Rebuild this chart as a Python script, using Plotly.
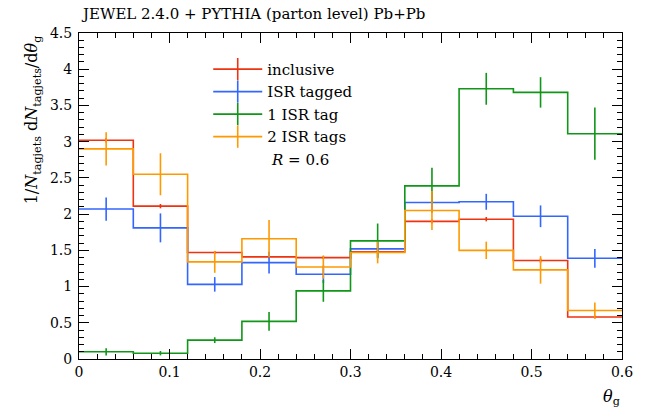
import plotly.graph_objects as go

bin_edges = [0.0, 0.06, 0.12, 0.18, 0.24, 0.30, 0.36, 0.42, 0.48, 0.54, 0.60]

inclusive = [3.02, 2.11, 1.47, 1.41, 1.40, 1.48, 1.90, 1.93, 1.36, 0.58]
inclusive_err = [0.03, 0.03, 0.02, 0.02, 0.02, 0.02, 0.03, 0.03, 0.03, 0.02]

isr_tagged = [2.07, 1.81, 1.03, 1.33, 1.17, 1.52, 2.16, 2.17, 1.97, 1.39]
isr_tagged_err = [0.16, 0.20, 0.10, 0.15, 0.12, 0.12, 0.14, 0.11, 0.15, 0.13]

one_isr = [0.10, 0.08, 0.26, 0.52, 0.94, 1.63, 2.39, 3.73, 3.68, 3.11]
one_isr_err = [0.05, 0.03, 0.04, 0.13, 0.15, 0.24, 0.25, 0.22, 0.21, 0.36]

two_isr = [2.90, 2.55, 1.34, 1.66, 1.27, 1.47, 2.05, 1.50, 1.23, 0.67]
two_isr_err = [0.23, 0.29, 0.15, 0.26, 0.16, 0.15, 0.27, 0.12, 0.19, 0.11]

series = [
    ("inclusive", inclusive, inclusive_err, "#EE3311"),
    ("ISR tagged", isr_tagged, isr_tagged_err, "#3366FF"),
    ("1 ISR tag", one_isr, one_isr_err, "#109618"),
    ("2 ISR tags", two_isr, two_isr_err, "#FF9900"),
]

centers = [(a + b) / 2 for a, b in zip(bin_edges[:-1], bin_edges[1:])]
FONT = "DejaVu Serif"

fig = go.Figure()
for name, vals, errs, col in series:
    fig.add_trace(go.Scatter(
        x=bin_edges, y=list(vals) + [vals[-1]], mode="lines",
        line=dict(color=col, width=1.6, shape="hv"),
        showlegend=False, hoverinfo="skip"))
    fig.add_trace(go.Scatter(
        x=centers, y=vals, mode="markers",
        marker=dict(size=0.1, color=col),
        error_y=dict(type="data", array=errs, visible=True, color=col,
                     thickness=1.6, width=0),
        showlegend=False))
for name, vals, errs, col in series:
    fig.add_trace(go.Scatter(
        x=[None], y=[None], mode="lines+markers", name=name,
        line=dict(color=col, width=1.6),
        marker=dict(symbol="line-ns", size=20, color=col,
                    line=dict(color=col, width=1.6))))

fig.update_layout(
    width=660, height=418,
    margin=dict(l=79, r=38, t=33, b=59, autoexpand=False),
    paper_bgcolor="white", plot_bgcolor="white",
    font=dict(family=FONT, size=14, color="black"),
    legend=dict(x=0.238, y=0.939, xanchor="left", yanchor="top",
                bgcolor="rgba(0,0,0,0)", font=dict(size=15, family=FONT),
                itemwidth=49, tracegroupgap=0),
    xaxis=dict(range=[0, 0.6], showgrid=False, zeroline=False, automargin=False,
               showline=True, linecolor="black", linewidth=1, mirror="allticks",
               ticks="inside", ticklen=10, tickwidth=1, tickcolor="black",
               dtick=0.1, tick0=0,
               minor=dict(ticks="inside", ticklen=5, dtick=0.02, tickcolor="black"),
               tickfont=dict(size=14, family=FONT)),
    yaxis=dict(range=[0, 4.5], showgrid=False, zeroline=False, automargin=False,
               showline=True, linecolor="black", linewidth=1, mirror="allticks",
               ticks="inside", ticklen=10, tickwidth=1, tickcolor="black",
               dtick=0.5, tick0=0, ticklabelstandoff=3,
               minor=dict(ticks="inside", ticklen=5, dtick=0.1, tickcolor="black"),
               tickfont=dict(size=14, family=FONT)),
    annotations=[
        dict(text="JEWEL 2.4.0 + PYTHIA (parton level) Pb+Pb", xref="paper", yref="paper",
             x=0, y=1, xanchor="left", yanchor="middle", yshift=19, showarrow=False,
             font=dict(size=15, family=FONT)),
        dict(text="1/<i>N</i><sub>tagjets</sub> d<i>N</i><sub>tagjets</sub>/d<i>θ</i><sub>g</sub>",
             xref="paper", yref="paper", textangle=-90,
             x=-0.085, y=1, xanchor="center", yanchor="top", showarrow=False,
             font=dict(size=16, family=FONT)),
        dict(text="<i>θ</i><sub>g</sub>", xref="paper", yref="paper",
             x=0.98, y=0, xanchor="center", yanchor="middle", yshift=-38, showarrow=False,
             font=dict(size=16, family=FONT)),
        dict(text="<i>R</i> = 0.6", xref="paper", yref="paper",
             x=0.349, y=0.611, xanchor="left", yanchor="middle", showarrow=False,
             font=dict(size=15, family=FONT)),
    ],
)

fig.write_html("out.html", config={"displayModeBar": False},
               post_script="document.body.style.margin='0';document.body.style.overflow='hidden';")
